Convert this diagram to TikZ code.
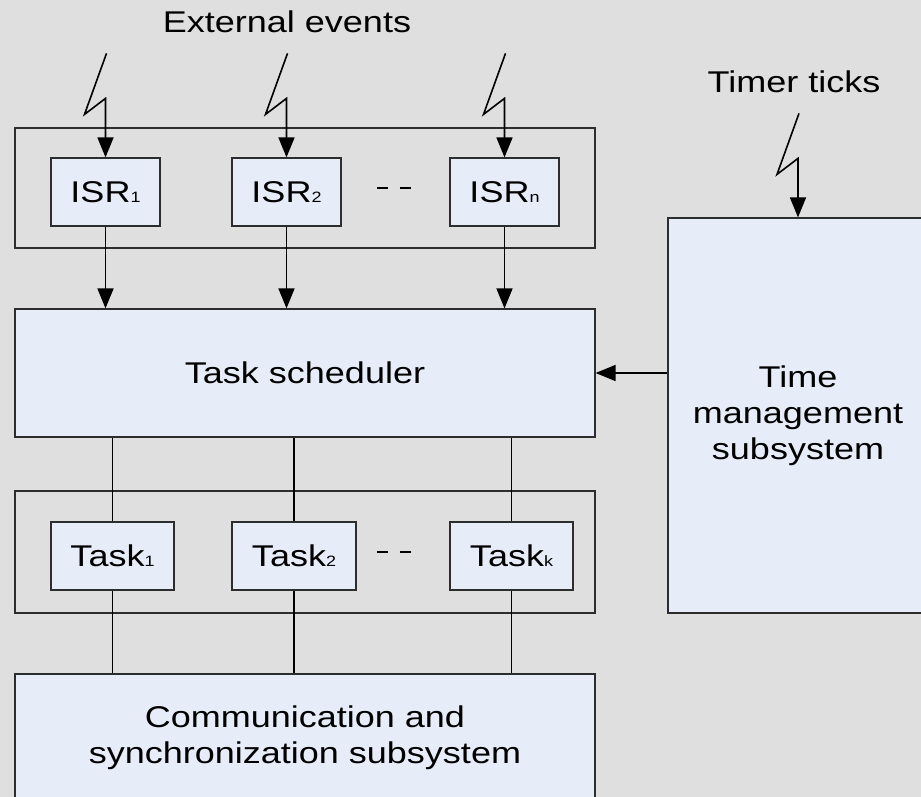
\documentclass[tikz,border=0pt]{standalone}
\usepackage{fontspec}
\setmainfont[FakeStretch=1.2]{Liberation Sans}
\usetikzlibrary{arrows.meta,calc}
\definecolor{bgcol}{RGB}{223,223,223}
\definecolor{boxfill}{RGB}{230,237,248}
\definecolor{boxline}{RGB}{45,45,45}
\newcommand{\idx}[1]{{\fontsize{15}{18}\selectfont #1}}
\begin{document}
\begin{tikzpicture}[x=1pt,y=-1pt,
  every node/.style={font=\fontsize{30}{36}\selectfont, text=black},
  block/.style={draw=boxline, fill=boxfill, line width=1.2pt, inner sep=0pt, align=center},
  group/.style={draw=boxline, line width=1.2pt, inner sep=0pt},
  arr/.style={line width=1.6pt, line join=miter, -{Triangle[length=20pt,width=16pt]}},
  link/.style={line width=1.6pt},
  gap/.style={draw=black, line width=1.4pt, dash pattern=on 11pt off 12pt}
]
% canvas
\fill[bgcol] (0,0) rectangle (921,797);
\useasboundingbox (0,0) rectangle (921,797);

% frames around the ISR row and the task row
\node[group, minimum width=580pt, minimum height=120pt] (isrs) at (305,188) {};
\node[group, minimum width=580pt, minimum height=122pt] (tasks) at (305,552) {};

% interrupt service routines
\node[block, minimum width=109pt, minimum height=68pt] (isr1) at (105.5,192) {ISR\idx{1}};
\node[block, minimum width=109pt, minimum height=68pt] (isr2) at (286.5,192) {ISR\idx{2}};
\node[block, minimum width=109pt, minimum height=68pt] (isrn) at (504.5,192) {ISR\idx{n}};
\coordinate (isrgapA) at (377,188);
\coordinate (isrgapB) at (413,188);
\draw[gap] (isrgapA) -- (isrgapB);

% scheduler
\node[block, minimum width=580pt, minimum height=128pt] (sched) at (305,373) {Task scheduler};

% tasks
\node[block, minimum width=123pt, minimum height=68pt] (task1) at (112.5,556) {Task\idx{1}};
\node[block, minimum width=124pt, minimum height=68pt] (task2) at (294,556) {Task\idx{2}};
\node[block, minimum width=123pt, minimum height=68pt] (taskk) at (511.5,556) {Task\idx{k}};
\coordinate (taskgapA) at (377,552);
\coordinate (taskgapB) at (413,552);
\draw[gap] (taskgapA) -- (taskgapB);

% communication and synchronization
\node[block, minimum width=580pt, minimum height=127pt] (comm) at (305,737.5)
  {Communication and\\synchronization subsystem};

% time management
\node[block, minimum width=260pt, minimum height=395pt] (time) at (798,415.5)
  {Time\\management\\subsystem};

% labels
\node[anchor=base, inner sep=0pt] (ext) at (287,33) {External events};
\node[anchor=base, inner sep=0pt] (ticks) at (794,93) {Timer ticks};

% lightning inputs
\foreach \n in {isr1,isr2,isrn,time}{
  \draw[arr] ($(\n.north)+(1,-104)$) -- ++(-22,61) -- ++(21,-16) -- (\n.north);
}

% ISRs feed the scheduler
\foreach \n in {isr1,isr2,isrn}{
  \draw[arr] (\n.south) -- (\n.south |- sched.north);
}
\draw[arr] (time.west |- sched.east) -- (sched.east);

% tasks tie the scheduler to the communication subsystem
\foreach \n in {task1,task2,taskk}{
  \draw[link] (\n.north) -- (\n.north |- sched.south);
  \draw[link] (\n.south) -- (\n.south |- comm.north);
}
\end{tikzpicture}
\end{document}
